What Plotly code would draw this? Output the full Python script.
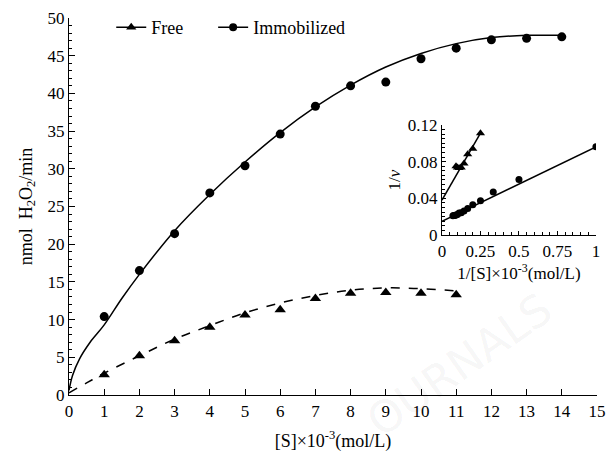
import plotly.graph_objects as go

# ---- main data ----
S_free = [1, 2, 3, 4, 5, 6, 7, 8, 9, 10, 11]
v_free = [2.7, 5.2, 7.2, 9.0, 10.6, 11.3, 12.8, 13.5, 13.6, 13.5, 13.3]
S_imm = [1, 2, 3, 4, 5, 6, 7, 8, 9, 10, 11, 12, 13, 14]
v_imm = [10.4, 16.5, 21.4, 26.8, 30.4, 34.6, 38.3, 41.0, 41.5, 44.6, 46.0, 47.1, 47.3, 47.5]

# fitted curves
fit_imm_x = [0, 0.1, 0.3, 0.6, 1, 1.5, 2, 3, 4, 5, 6, 7, 8, 9, 10, 11, 12, 13, 14]
fit_imm_y = [0.6, 2.6, 4.8, 7.0, 9.3, 12.8, 16.0, 21.8, 26.6, 30.9, 34.8, 38.2, 41.1, 43.5, 45.3, 46.6, 47.4, 47.7, 47.7]
fit_free_x = [0, 0.5, 1, 2, 3, 4, 5, 6, 7, 8, 9, 10, 11]
fit_free_y = [0.3, 1.6, 2.9, 5.2, 7.4, 9.2, 10.9, 12.2, 13.2, 13.9, 14.2, 14.1, 13.8]

# ---- inset (Lineweaver-Burk) data ----
inv_S_free = [0.091, 0.100, 0.111, 0.125, 0.143, 0.167, 0.200, 0.250]
inv_v_free = [0.075, 0.0735, 0.073, 0.0735, 0.078, 0.088, 0.094, 0.111]
inv_S_imm = [0.071, 0.077, 0.083, 0.091, 0.100, 0.111, 0.125, 0.143, 0.167, 0.200, 0.250, 0.333, 0.500, 1.000]
inv_v_imm = [0.021, 0.0212, 0.0213, 0.0217, 0.0224, 0.0241, 0.0244, 0.0261, 0.029, 0.0329, 0.0373, 0.0469, 0.0606, 0.0962]
line_free_x = [0, 0.25]
line_free_y = [0.038, 0.111]
line_imm_x = [0, 1.0]
line_imm_y = [0.015, 0.096]

FONT = "Liberation Serif"
BLACK = "black"

fig = go.Figure()

# main curves
fig.add_trace(go.Scatter(x=fit_imm_x, y=fit_imm_y, mode="lines", line=dict(color=BLACK, width=1.5, shape="spline"),
                         showlegend=False, hoverinfo="skip"))
fig.add_trace(go.Scatter(x=fit_free_x, y=fit_free_y, mode="lines",
                         line=dict(color=BLACK, width=1.5, dash="dash", shape="spline"),
                         showlegend=False, hoverinfo="skip"))
fig.add_trace(go.Scatter(x=S_free, y=v_free, mode="markers", marker=dict(symbol="triangle-up", size=10, color=BLACK),
                         showlegend=False))
fig.add_trace(go.Scatter(x=S_imm, y=v_imm, mode="markers", marker=dict(symbol="circle", size=9, color=BLACK),
                         showlegend=False))

# legend entries
fig.add_trace(go.Scatter(x=[None], y=[None], mode="lines+markers", name="Free", legend="legend",
                         line=dict(color=BLACK, width=1.5), marker=dict(symbol="triangle-up", size=9, color=BLACK)))
fig.add_trace(go.Scatter(x=[None], y=[None], mode="lines+markers", name="Immobilized", legend="legend2",
                         line=dict(color=BLACK, width=1.5), marker=dict(symbol="circle", size=8, color=BLACK)))

# inset
fig.add_trace(go.Scatter(x=line_free_x, y=line_free_y, mode="lines", line=dict(color=BLACK, width=1.5),
                         xaxis="x2", yaxis="y2", showlegend=False))
fig.add_trace(go.Scatter(x=line_imm_x, y=line_imm_y, mode="lines", line=dict(color=BLACK, width=1.5),
                         xaxis="x2", yaxis="y2", showlegend=False))
fig.add_trace(go.Scatter(x=inv_S_free, y=inv_v_free, mode="markers",
                         marker=dict(symbol="triangle-up", size=8, color=BLACK),
                         xaxis="x2", yaxis="y2", showlegend=False))
fig.add_trace(go.Scatter(x=inv_S_imm, y=inv_v_imm, mode="markers",
                         marker=dict(symbol="circle", size=7, color=BLACK),
                         xaxis="x2", yaxis="y2", showlegend=False))

tickfont = dict(family=FONT, size=17, color=BLACK)
legend_common = dict(orientation="h", y=0.975, xanchor="left", yanchor="middle",
                     font=dict(family=FONT, size=18), bgcolor="rgba(0,0,0,0)", itemwidth=30)
fig.update_layout(
    width=606, height=457,
    margin=dict(l=69, r=9, t=18, b=62, autoexpand=False),
    paper_bgcolor="white", plot_bgcolor="white",
    font=dict(family=FONT, size=17, color=BLACK),
    showlegend=True,
    legend=dict(x=0.08, **legend_common),
    legend2=dict(x=0.273, **legend_common),
    xaxis=dict(range=[0, 15], domain=[0, 1], showline=True, linecolor=BLACK, linewidth=1.3,
               showgrid=False, zeroline=False, ticks="inside", ticklen=6, tickcolor=BLACK,
               tick0=0, dtick=1, tickfont=tickfont, mirror=False,
               title=dict(text="[S]×10<sup>-3</sup>(mol/L)", font=dict(family=FONT, size=18), standoff=14)),
    yaxis=dict(range=[0, 50], domain=[0, 1], showline=True, linecolor=BLACK, linewidth=1.3,
               showgrid=False, zeroline=False, ticks="inside", ticklen=6, tickcolor=BLACK,
               tick0=0, dtick=5, tickfont=tickfont,
               minor=dict(ticks="inside", ticklen=3, dtick=1, tickcolor=BLACK, showgrid=False),
               title=dict(text="nmol  H<sub>2</sub>O<sub>2</sub>/min", font=dict(family=FONT, size=18), standoff=10)),
    xaxis2=dict(range=[0, 1.0], domain=[0.7064, 0.998], anchor="y2", showline=True, linecolor=BLACK, linewidth=1.3,
                showgrid=False, zeroline=False, ticks="inside", ticklen=4, tickcolor=BLACK,
                tickvals=[0, 0.25, 0.5, 0.75, 1], ticktext=["0", "0.25", "0.5", "0.75", "1"], tickfont=tickfont,
                minor=dict(ticks="inside", ticklen=3, dtick=0.05, tickcolor=BLACK, showgrid=False),
                title=dict(text="1/[S]×10<sup>-3</sup>(mol/L)", font=dict(family=FONT, size=17), standoff=4)),
    yaxis2=dict(range=[0, 0.12], domain=[0.4244, 0.7162], anchor="x2", showline=True, linecolor=BLACK, linewidth=1.3,
                showgrid=False, zeroline=False, ticks="inside", ticklen=4, tickcolor=BLACK,
                tickvals=[0, 0.04, 0.08, 0.12], ticktext=["0", "0.04", "0.08", "0.12"], tickfont=tickfont,
                minor=dict(ticks="inside", ticklen=3, dtick=0.005, tickcolor=BLACK, showgrid=False),
                title=dict(text="1/<i>v</i>", font=dict(family=FONT, size=17), standoff=2)),
    annotations=[dict(text="OURNALS", x=0.74, y=0.08, xref="paper", yref="paper", showarrow=False,
                      xanchor="center", yanchor="middle",
                      textangle=-35, font=dict(family="DejaVu Sans", size=44, color="rgba(0,0,0,0.05)"))],
)

fig.write_html("out.html")
